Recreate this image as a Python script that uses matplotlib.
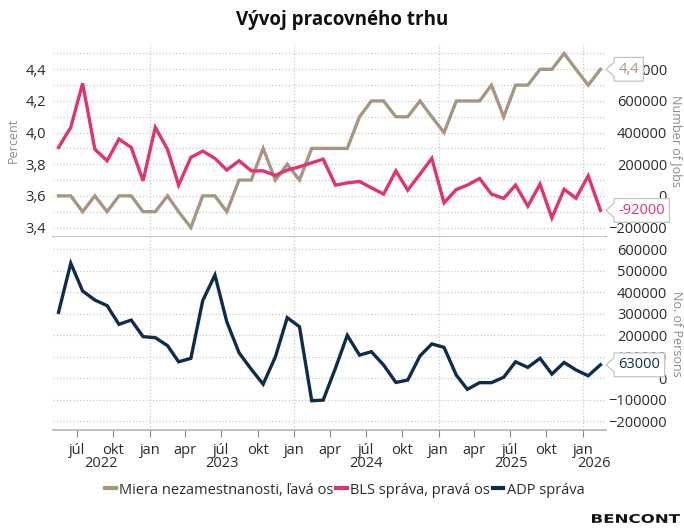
import numpy as np
import pandas as pd
import matplotlib
matplotlib.use('Agg')
import matplotlib.pyplot as plt
import matplotlib.dates as mdates
import matplotlib.transforms as mtransforms
from matplotlib.path import Path
from matplotlib.textpath import TextPath
from matplotlib.patches import PathPatch
from matplotlib.font_manager import FontProperties

# monthly data, May 2022 - Feb 2026
dates = pd.date_range('2022-05-01', periods=46, freq='MS') + pd.Timedelta(days=14)

unemployment = [3.6, 3.6, 3.5, 3.6, 3.5, 3.6, 3.6, 3.5, 3.5, 3.6, 3.5, 3.4,
                3.6, 3.6, 3.5, 3.7, 3.7, 3.9, 3.7, 3.8, 3.7, 3.9, 3.9, 3.9,
                3.9, 4.1, 4.2, 4.2, 4.1, 4.1, 4.2, 4.1, 4.0, 4.2, 4.2, 4.2,
                4.3, 4.1, 4.3, 4.3, 4.4, 4.4, 4.5, 4.4, 4.3, 4.4]

bls = [306000, 433000, 711000, 294000, 222000, 359000, 306000, 95000, 433000, 294000,
       68000, 243000, 283000, 237000, 163000, 222000, 158000, 158000, 129000, 163000,
       184000, 209000, 232000, 68000, 82000, 91000, 51000, 11000, 158000, 36000,
       137000, 237000, -44000, 40000, 68000, 110000, 11000, -16000, 68000, -65000,
       74000, -139000, 42000, -15000, 127000, -92000]

adp = [307000, 535000, 406000, 364000, 338000, 251000, 271000, 194000, 189000, 152000,
       77000, 93000, 361000, 480000, 263000, 119000, 42000, -27000, 100000, 282000,
       240000, -104000, -101000, 47000, 200000, 108000, 124000, 62000, -19000, -8000,
       104000, 160000, 144000, 15000, -51000, -20000, -20000, 5000, 77000, 51000,
       93000, 20000, 74000, 39000, 12000, 63000]

month_names = {1: 'jan', 4: 'apr', 7: 'júl', 10: 'okt'}
years = [2022, 2023, 2024, 2025, 2026]

c_unemp = '#a89684'
c_bls = '#e2336e'
c_adp = '#0e2c4b'
grid_c = '#c9c9c9'
txt_c = '#2b2b2b'

plt.rcParams['font.family'] = ['Open Sans', 'DejaVu Sans']
plt.rcParams['font.size'] = 10


def callout(x0, y0, width, height, mutation_size):
    # rounded-less label box with a small pointer on the left
    pad = 0.3 * mutation_size
    x0, y0 = x0 - pad, y0 - pad
    x1, y1 = x0 + width + 2 * pad, y0 + height + 2 * pad
    ym = (y0 + y1) / 2
    ah = 0.3 * (y1 - y0)
    al = 0.55 * mutation_size
    verts = [(x0, y0), (x1, y0), (x1, y1), (x0, y1), (x0, ym + ah),
             (x0 - al, ym), (x0, ym - ah), (x0, y0), (x0, y0)]
    codes = [Path.MOVETO] + [Path.LINETO] * 7 + [Path.CLOSEPOLY]
    return Path(verts, codes)


fig = plt.figure(figsize=(6.84, 5.29), dpi=100)
W, H = 684, 529
left, right = 53, 606
ax1 = fig.add_axes([left / W, (H - 237) / H, (right - left) / W, 193 / H])
ax2 = ax1.twinx()
ax3 = fig.add_axes([left / W, (H - 430) / H, (right - left) / W, 193 / H], sharex=ax1)

xmin, xmax = pd.Timestamp('2022-05-01'), pd.Timestamp('2026-03-01')
ax1.set_xlim(xmin, xmax)

# top panel
ax1.set_ylim(3.34, 4.56)
ax2.set_ylim(-260000, 960000)
ax1.plot(dates, unemployment, color=c_unemp, lw=2.4, solid_joinstyle='miter', zorder=3)
ax2.plot(dates, bls, color=c_bls, lw=2.4, solid_joinstyle='miter', zorder=3)
ax1.set_yticks(np.arange(3.4, 4.41, 0.2))
ax1.set_yticks(np.arange(3.4, 4.51, 0.1), minor=True)
ax1.set_yticklabels([f'{v:.1f}'.replace('.', ',') for v in np.arange(3.4, 4.41, 0.2)])
ax1.grid(True, which='both', axis='y', ls=':', color=grid_c, lw=0.9)
ax2.set_yticks(np.arange(-200000, 800001, 200000))
ax1.tick_params(axis='y', which='both', length=0, pad=5, labelsize=10.5, labelcolor=txt_c)
ax2.tick_params(axis='y', length=0, pad=44, labelsize=10.5, labelcolor=txt_c)
for lab in ax2.get_yticklabels():
    lab.set_horizontalalignment('right')
ax1.set_ylabel('Percent', color='#8a8a8a', fontsize=9)
ax1.yaxis.set_label_coords(-0.06, 0.5)
ax2.set_ylabel('Number of Jobs', color='#8a8a8a', fontsize=9, rotation=270, va='bottom')
ax2.yaxis.set_label_coords(1.116, 0.5)

# bottom panel
ax3.set_ylim(-240000, 657000)
ax3.plot(dates, adp, color=c_adp, lw=2.4, solid_joinstyle='miter', zorder=3)
ax3.yaxis.tick_right()
ax3.set_yticks(np.arange(-200000, 600001, 100000))
ax3.grid(True, axis='y', ls=':', color=grid_c, lw=0.9)
ax3.tick_params(axis='y', length=0, pad=44, labelsize=10.5, labelcolor=txt_c)
for lab in ax3.get_yticklabels():
    lab.set_horizontalalignment('right')
ax3.yaxis.set_label_position('right')
ax3.set_ylabel('No. of Persons', color='#8a8a8a', fontsize=9, rotation=270, va='bottom')
ax3.yaxis.set_label_coords(1.116, 0.5)

# vertical year gridlines
for ax in (ax1, ax3):
    for y in years:
        ax.axvline(pd.Timestamp(f'{y}-01-01'), ls=':', color=grid_c, lw=0.9, zorder=1)

for ax in (ax1, ax2, ax3):
    for s in ('left', 'right', 'top'):
        ax.spines[s].set_visible(False)
    ax.spines['bottom'].set_color('#b5b5b5')
    ax.spines['bottom'].set_linewidth(1.2)
ax1.tick_params(axis='x', which='both', length=0, labelbottom=False)
ax2.spines['bottom'].set_visible(False)

# x ticks on bottom panel
qticks = pd.date_range('2022-07-01', '2026-01-01', freq='QS-JAN')
ax3.set_xticks(qticks)
ax3.set_xticklabels([month_names[d.month] for d in qticks])
ax3.tick_params(axis='x', length=5, color='#888888', pad=4, labelsize=10.5, labelcolor=txt_c)

# year labels centred in visible span of each year
trans = mtransforms.blended_transform_factory(ax3.transData, ax3.transAxes)
for y in years:
    a = max(pd.Timestamp(f'{y}-01-01'), xmin)
    b = min(pd.Timestamp(f'{y + 1}-01-01'), xmax)
    mid = a + (b - a) / 2
    ax3.text(mid, -0.172, str(y), transform=trans, ha='center', va='center',
             fontsize=10.5, color=txt_c)

# value callouts
last_x = mdates.date2num(dates[-1])
box = dict(boxstyle=callout, fc='white', ec='#c4c4c4', lw=0.9)
ax2.annotate('4,4', xy=(last_x, unemployment[-1]), xycoords=ax1.transData,
             xytext=(18, 0), textcoords='offset pixels', va='center', ha='left',
             color=c_unemp, fontsize=10.5, bbox=box, zorder=20, annotation_clip=False)
ax2.annotate('-92000', xy=(last_x, bls[-1]), xytext=(18, 0),
             textcoords='offset pixels', va='center', ha='left',
             color=c_bls, fontsize=10.5, bbox=box, zorder=20, annotation_clip=False)
ax3.annotate('63000', xy=(last_x, adp[-1]), xytext=(18, 0),
             textcoords='offset pixels', va='center', ha='left',
             color=c_adp, fontsize=10.5, bbox=box, zorder=20, annotation_clip=False)

# title, legend
fig.text(342 / W, 1 - 20 / H, 'Vývoj pracovného trhu', ha='center', va='center',
         fontsize=13.5, fontweight='bold', color='#111111')
handles = [plt.Line2D([], [], color=c, lw=3) for c in (c_unemp, c_bls, c_adp)]
fig.legend(handles, ['Miera nezamestnanosti, ľavá os', 'BLS správa, pravá os', 'ADP správa'],
           loc='center', bbox_to_anchor=(345 / W, 1 - 490 / H), ncol=3, frameon=False,
           handlelength=0.7, handletextpad=0.25, columnspacing=0.2, fontsize=10.5,
           labelcolor=txt_c)

# logo: wide bold lettering, stretched horizontally
tp = TextPath((0, 0), 'BENCONT', size=12, prop=FontProperties(family='DejaVu Sans', weight='bold'))
bb = tp.get_extents()
logo_tr = (mtransforms.Affine2D().translate(-bb.x0, -bb.y0)
           .scale(88 / bb.width, 9 / bb.height).translate(592, H - 523).scale(1 / 100)
           + fig.dpi_scale_trans)
fig.patches.append(PathPatch(tp, transform=logo_tr, fc='#111111', ec='none'))

fig.savefig('out.png', dpi=100)
